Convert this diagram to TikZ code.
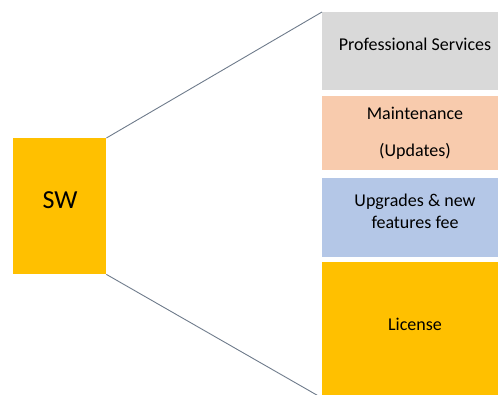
\documentclass[tikz,border=0pt]{standalone}
\usepackage{fontspec}
\setmainfont{Carlito}
\definecolor{swyellow}{HTML}{FFC000}
\definecolor{psgray}{HTML}{D9D9D9}
\definecolor{mpeach}{HTML}{F8CBAD}
\definecolor{ublue}{HTML}{B4C7E7}
\definecolor{linec}{HTML}{6E7B8B}
\begin{document}
\begin{tikzpicture}[x=1pt,y=-1pt,
  blk/.style={draw=none,inner sep=0pt,anchor=north west},
  txt/.style={inner sep=0pt,align=center,font=\fontsize{18}{22}\selectfont},
  conn/.style={draw=linec,line width=0.9pt}]
\useasboundingbox (0,0) rectangle (498,394);
\begin{scope}
\clip (0,0) rectangle (498,394);
\node[blk,fill=swyellow,minimum width=93pt,minimum height=136pt] (sw) at (13,138) {};
\node[blk,fill=psgray,minimum width=186pt,minimum height=78pt] (ps) at (322,12) {};
\node[blk,fill=mpeach,minimum width=186pt,minimum height=74pt] (mt) at (322,96) {};
\node[blk,fill=ublue,minimum width=186pt,minimum height=79pt] (up) at (322,178) {};
\node[blk,fill=swyellow,minimum width=186pt,minimum height=140pt] (li) at (322,262) {};
\end{scope}
\node[txt,font=\fontsize{26}{30}\selectfont] (swt) at (60,200) {SW};
\node[txt] (pst) at (415,44) {Professional Services};
\node[txt,font=\fontsize{18}{37}\selectfont] (mtt) at (415,133.5) {Maintenance\\(Updates)};
\node[txt] (upt) at (415,211) {Upgrades \& new\\features fee};
\node[txt] (lit) at (415,324) {License};
\coordinate (bend) at (322,398);
\draw[conn] (sw.north east) -- (ps.north west);
\draw[conn] (sw.south east) -- (bend);
\end{tikzpicture}
\end{document}
